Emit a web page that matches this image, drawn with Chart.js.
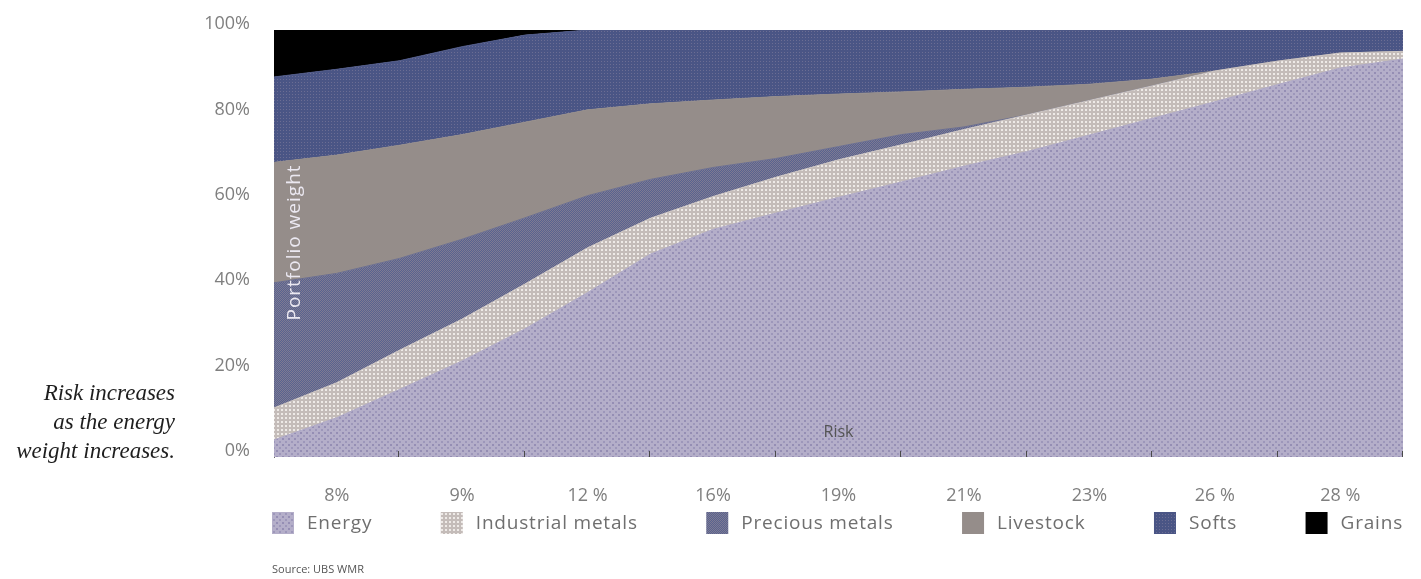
<!DOCTYPE html>
<html>
<head>
<meta charset="UTF-8">
<title>Portfolio weights by risk</title>
<script src="https://cdn.jsdelivr.net/npm/chart.js"></script>
<style>
  html, body { margin: 0; padding: 0; background: #fff; }
  #wrap { position: relative; width: 1421px; height: 579px; overflow: hidden; }
  #note { position: absolute; left: 0; top: 378px; width: 175px; text-align: right;
          font: italic 23px/29px "Liberation Serif", serif; color: #1e1e1e; }
  #source { position: absolute; left: 272px; top: 561px; font: 11px "Open Sans", sans-serif; color: #555; }
</style>
</head>
<body>
<div id="wrap">
  <canvas id="chart" width="1421" height="579"></canvas>
  <div id="note">Risk increases<br>as the energy<br>weight increases.</div>
  <div id="source">Source: UBS WMR</div>
</div>
<script>
const riskLabels = ['8%', '9%', '12 %', '16%', '19%', '21%', '23%', '26 %', '28 %'];
// sample points along the risk axis (0 = left edge, 9 = right edge)
const riskPos = [0, 0.5, 1, 1.5, 2, 2.5, 3, 3.5, 4, 4.5, 5, 5.5, 6, 6.5, 7, 7.5, 8, 8.5, 9];

const energy     = [4, 9.2, 15.8, 22.5, 30, 38.5, 47.5, 53.3, 57.1, 60.8, 64.4, 68.1, 71.5, 75.4, 79.3, 83.2, 87.2, 91.1, 93.2];
const industrial = [7.5, 8.2, 9.2, 9.8, 10.5, 10.5, 8.4, 7.7, 8.4, 8.8, 8.7, 8.6, 8.6, 8.1, 7.6, 7.2, 5.5, 3.5, 1.8];
const precious   = [29.3, 25.6, 21.5, 18.7, 15.5, 12.2, 9.1, 6.8, 4.4, 3.1, 2.4, 0.6, 0, 0, 0, 0, 0, 0, 0];
const livestock  = [28.2, 27.7, 26.5, 24.5, 22.4, 20.1, 17.7, 15.8, 14.5, 12.3, 10, 8.8, 6.5, 3.8, 1.6, 0, 0, 0, 0];
const softs      = [20, 20.1, 19.8, 20.6, 20.4, 18.7, 17.3, 16.4, 15.6, 15, 14.5, 13.9, 13.4, 12.7, 11.5, 9.6, 7.3, 5.4, 5];
const grains     = [11, 9.2, 7.2, 3.9, 1.2, 0, 0, 0, 0, 0, 0, 0, 0, 0, 0, 0, 0, 0, 0];

const yTicks = [0, 20, 40, 60, 80, 100];

// small repeating tiles to mimic the printed screen textures
function makePattern(size, base, dots) {
  const c = document.createElement('canvas');
  c.width = c.height = size;
  const g = c.getContext('2d');
  g.fillStyle = base;
  g.fillRect(0, 0, size, size);
  dots.forEach(d => { g.fillStyle = d[3]; g.fillRect(d[0], d[1], d[2], d[2]); });
  return g.createPattern(c, 'repeat');
}

const ctx = document.getElementById('chart').getContext('2d');

const series = [
  { label: 'Energy', data: energy, line: '#aea8c5',
    fill: makePattern(6, '#b4aec9', [[0, 0, 2, '#958eb4'], [3, 3, 2, '#9d97ba']]) },
  { label: 'Industrial metals', data: industrial, line: '#cdc6c3',
    fill: makePattern(4, '#c4bcb9', [[1, 1, 2, '#eeeae7']]) },
  { label: 'Precious metals', data: precious, line: '#6a6d8e',
    fill: makePattern(2, '#58638f', [[0, 0, 1, '#7e7a93'], [1, 1, 1, '#7e7a93']]) },
  { label: 'Livestock', data: livestock, line: '#958d8a',
    fill: makePattern(2, '#958d8a', []) },
  { label: 'Softs', data: softs, line: '#4e5886',
    fill: makePattern(3, '#4a5585', [[1, 1, 1, '#6b6d93']]) },
  { label: 'Grains', data: grains, line: '#000000',
    fill: makePattern(2, '#000000', []) }
];

const plotExtras = {
  id: 'plotExtras',
  afterDatasetsDraw(chart) {
    const { ctx, chartArea: a, scales: { x } } = chart;
    ctx.save();
    ctx.strokeStyle = '#4a4a4a';
    ctx.lineWidth = 1;
    for (let i = 1; i <= riskLabels.length; i++) {
      const px = Math.round(x.getPixelForValue(i)) - 0.5;
      ctx.beginPath();
      ctx.moveTo(px, a.bottom);
      ctx.lineTo(px, a.bottom - 6);
      ctx.stroke();
    }
    ctx.textAlign = 'center';
    ctx.textBaseline = 'middle';
    ctx.fillStyle = '#555';
    ctx.font = '16px "Open Sans"';
    ctx.fillText('Risk', (a.left + a.right) / 2, a.bottom - 25);
    ctx.translate(a.left + 21, (a.top + a.bottom) / 2 - 1);
    ctx.rotate(-Math.PI / 2);
    ctx.fillStyle = '#ebe8f1';
    ctx.font = '19px "Open Sans"';
    ctx.letterSpacing = '1px';
    ctx.fillText('Portfolio weight', 0, 0);
    ctx.restore();
  },
  afterDraw(chart) {
    // legend row, spread across the plot width
    const { ctx, chartArea: a } = chart;
    const box = 22, gap = 13, y = 523;
    ctx.save();
    ctx.font = '19px "Open Sans"';
    ctx.letterSpacing = '0.8px';
    ctx.textBaseline = 'middle';
    ctx.textAlign = 'left';
    const items = chart.data.datasets.map(ds => ({
      text: ds.label, fill: ds.backgroundColor,
      w: box + gap + ctx.measureText(ds.label).width
    }));
    const total = items.reduce((s, it) => s + it.w, 0);
    const space = (a.right - a.left + 2 - total) / (items.length - 1);
    let cx = a.left - 2;
    items.forEach(it => {
      ctx.fillStyle = it.fill;
      ctx.fillRect(cx, y - box / 2, box, box);
      ctx.fillStyle = '#6f6f6f';
      ctx.fillText(it.text, cx + box + gap, y + 1);
      cx += it.w + space;
    });
    ctx.restore();
  }
};

new Chart(ctx, {
  type: 'line',
  data: {
    datasets: series.map((s, i) => ({
      label: s.label,
      data: s.data.map((v, j) => ({ x: riskPos[j], y: v })),
      backgroundColor: s.fill,
      borderColor: s.line,
      borderWidth: 1,
      pointRadius: 0,
      tension: 0,
      fill: i === 0 ? 'origin' : '-1'
    }))
  },
  options: {
    responsive: false,
    animation: false,
    devicePixelRatio: 1,
    layout: { padding: { left: 185, top: 30, right: 18, bottom: 0 } },
    plugins: {
      legend: { display: false },
      tooltip: { enabled: false }
    },
    scales: {
      x: {
        type: 'linear',
        min: 0,
        max: riskLabels.length,
        afterBuildTicks: scale => {
          scale.ticks = riskLabels.map((_, i) => ({ value: i + 0.5 }));
        },
        afterFit: scale => { scale.height = 122; },
        grid: { display: false },
        border: { display: false },
        ticks: {
          autoSkip: false,
          maxRotation: 0,
          padding: 20,
          color: '#7f7f7f',
          font: { family: 'Open Sans', size: 18 },
          callback: v => riskLabels[Math.floor(v)]
        }
      },
      y: {
        stacked: true,
        min: 0,
        max: 100,
        afterBuildTicks: scale => {
          scale.ticks = yTicks.map(v => ({ value: v }));
        },
        afterFit: scale => { scale.width = 89; },
        grid: { display: false },
        border: { display: true, color: '#6a6a6a', width: 1 },
        ticks: {
          padding: 16,
          labelOffset: -6,
          color: '#7f7f7f',
          font: { family: 'Open Sans', size: 18 },
          callback: v => v + '%'
        }
      }
    }
  },
  plugins: [plotExtras]
});
</script>
</body>
</html>
